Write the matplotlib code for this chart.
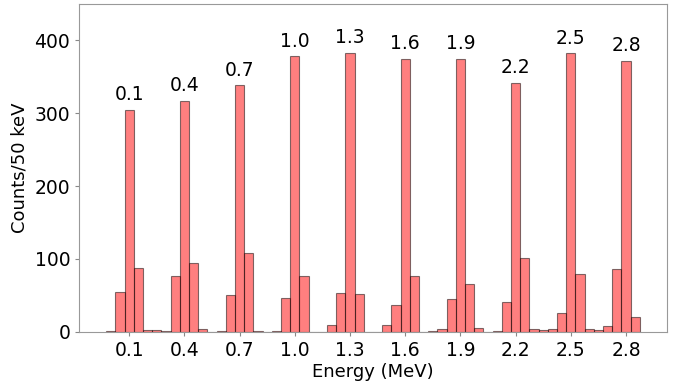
import numpy as np
from matplotlib import pyplot as plt

# histogram bin centres (MeV), 50 keV wide
bin_centres = np.round(np.arange(0.0, 2.851, 0.05), 2)
# counts per bin
counts = [1, 55, 304, 87, 2, 2, 1.5, 77, 317, 94,
          4, 0, 1, 51, 338, 108, 1, 0, 1, 46,
          378, 76, 0, 0, 10, 54, 383, 52, 0, 0,
          10, 37, 374, 77, 0, 1, 3.5, 45, 374, 66,
          5, 0, 1.5, 41, 342, 102, 3.5, 2, 3.5, 26,
          382, 79, 4, 3, 8, 86, 372, 21]

# peak energies and their labels
peaks = [0.1, 0.4, 0.7, 1.0, 1.3, 1.6, 1.9, 2.2, 2.5, 2.8]
peak_labels = ['0.1', '0.4', '0.7', '1.0', '1.3', '1.6', '1.9', '2.2', '2.5', '2.8']

fig = plt.figure(figsize=(6.85, 3.85), dpi=100)
ax = fig.add_axes([0.1157, 0.138, 0.858, 0.852])

ax.bar(bin_centres, counts, width=0.05, color='red', alpha=0.5,
       edgecolor='black', linewidth=0.8)

# label each peak with its energy
for e, lab in zip(peaks, peak_labels):
    idx = int(np.argmin(np.abs(bin_centres - e)))
    ax.text(e, counts[idx] + 8, lab, ha='center', va='bottom', fontsize=13.5)

ax.set_xlim(-0.172, 3.023)
ax.set_ylim(0, 450)
ax.set_xticks(peaks)
ax.set_xticklabels(peak_labels)
ax.set_yticks([0, 100, 200, 300, 400])
ax.tick_params(labelsize=13.5, color='#888888', length=3)
ax.set_xlabel('Energy (MeV)', fontsize=13, labelpad=2)
ax.set_ylabel('Counts/50 keV', fontsize=13)
for s in ax.spines.values():
    s.set_color('#999999')

plt.savefig('out.png', dpi=100)
